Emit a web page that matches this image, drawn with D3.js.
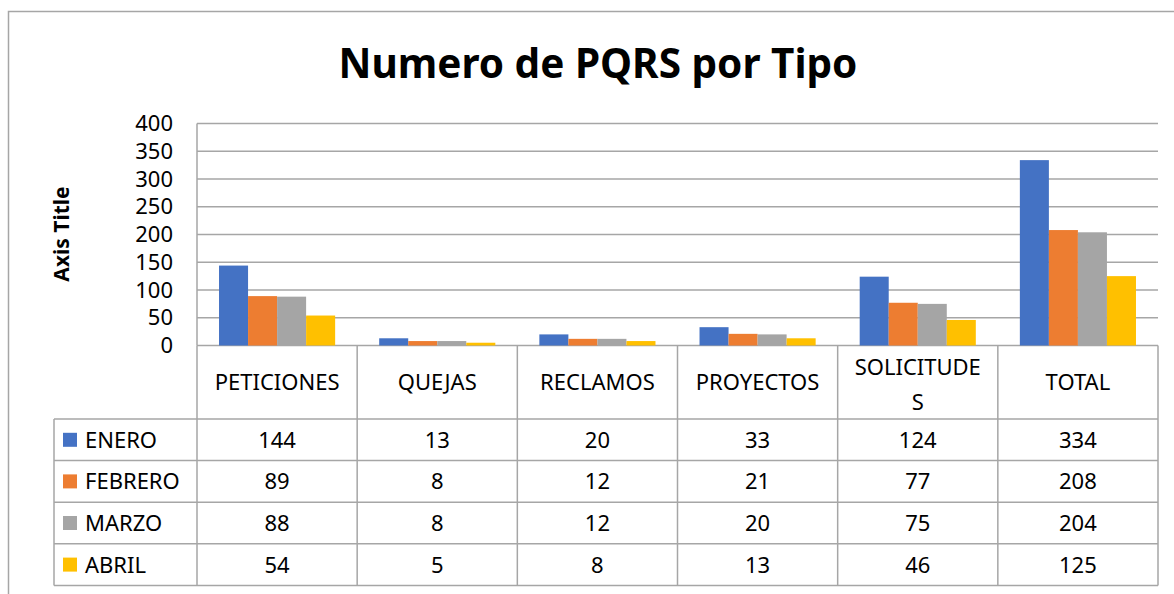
<!DOCTYPE html>
<html>
<head>
<meta charset="utf-8">
<script src="https://cdn.jsdelivr.net/npm/d3@7"></script>
<style>
  body { margin: 0; background: #fff; }
  svg text { font-family: "Noto Sans", sans-serif; fill: #000; }
</style>
</head>
<body>
<svg class="chart" width="1174" height="594"></svg>
<script>
var categories = ["PETICIONES", "QUEJAS", "RECLAMOS", "PROYECTOS", "SOLICITUDES", "TOTAL"];
var catLines = [["PETICIONES"], ["QUEJAS"], ["RECLAMOS"], ["PROYECTOS"], ["SOLICITUDE", "S"], ["TOTAL"]];
var seriesNames = ["ENERO", "FEBRERO", "MARZO", "ABRIL"];
var enero = [144, 13, 20, 33, 124, 334];
var febrero = [89, 8, 12, 21, 77, 208];
var marzo = [88, 8, 12, 20, 75, 204];
var abril = [54, 5, 8, 13, 46, 125];
var yTicks = [0, 50, 100, 150, 200, 250, 300, 350, 400];
var colors = ["#4472C4", "#ED7D31", "#A5A5A5", "#FFC000"];

var seriesValues = [enero, febrero, marzo, abril];

var svg = d3.select(".chart");

var margin = { top: 123.5, left: 197, right: 16 },
    width = 1158 - margin.left,
    height = 345.5 - margin.top;

var lineColor = "#a6a6a6";

// outer frame (right and bottom fall off the picture)
svg.append("rect")
    .attr("x", 8.5).attr("y", 11.5)
    .attr("width", 1200).attr("height", 700)
    .attr("fill", "none")
    .attr("stroke", lineColor)
    .attr("stroke-width", 1.5);

// title
svg.append("text")
    .attr("x", 598).attr("y", 78)
    .attr("text-anchor", "middle")
    .attr("font-size", "40.5px")
    .attr("font-weight", "bold")
    .text("Numero de PQRS por Tipo");

var x0 = d3.scaleBand().domain(categories).range([0, width]);
var bw = x0.bandwidth();
var gap = bw * 0.1375;
var x1 = d3.scaleBand().domain(seriesNames).range([gap, bw - gap]);
var y = d3.scaleLinear().domain([0, 400]).range([height, 0]);

var g = svg.append("g")
    .attr("transform", "translate(" + margin.left + "," + margin.top + ")");

// gridlines
g.selectAll(".grid")
    .data(yTicks).enter()
    .append("line")
    .attr("x1", 0).attr("x2", width)
    .attr("y1", function (d) { return y(d); })
    .attr("y2", function (d) { return y(d); })
    .attr("stroke", lineColor)
    .attr("stroke-width", 1.5);

// y axis
var yAxis = d3.axisLeft(y).tickValues(yTicks).tickSize(0).tickPadding(24);
var ya = g.append("g").call(yAxis);
ya.select(".domain").remove();
ya.selectAll("text")
    .attr("font-size", "22px")
    .attr("font-family", "Noto Sans, sans-serif")
    .attr("fill", "#000");

g.append("line")
    .attr("x1", 0).attr("x2", 0)
    .attr("y1", 0).attr("y2", height)
    .attr("stroke", lineColor).attr("stroke-width", 1.5);

// axis title
svg.append("text")
    .attr("transform", "translate(69,234) rotate(-90)")
    .attr("text-anchor", "middle")
    .attr("font-size", "21px")
    .attr("font-weight", "bold")
    .text("Axis Title");

// bars
var groups = g.selectAll(".cat")
    .data(categories).enter()
    .append("g")
    .attr("transform", function (d) { return "translate(" + x0(d) + ",0)"; });

groups.selectAll("rect")
    .data(function (d, i) {
        return seriesNames.map(function (s, j) { return { s: s, v: seriesValues[j][i], j: j }; });
    }).enter()
    .append("rect")
    .attr("x", function (d) { return x1(d.s); })
    .attr("y", function (d) { return y(d.v); })
    .attr("width", x1.bandwidth())
    .attr("height", function (d) { return height - y(d.v); })
    .attr("fill", function (d) { return colors[d.j]; });

// data table
var rowH = 41.6, headH = 73.5;
var tableTop = height;
var legendLeft = 54 - margin.left;
var tb = g.append("g");

// header cells labels
categories.forEach(function (c, i) {
    var lines = catLines[i];
    var cx = x0(c) + bw / 2;
    var t = tb.append("text")
        .attr("text-anchor", "middle")
        .attr("font-size", "22px");
    lines.forEach(function (ln, k) {
        t.append("tspan")
            .attr("x", cx)
            .attr("y", lines.length > 1 ? tableTop + 29 + k * 35 : tableTop + 44)
            .text(ln);
    });
});

// vertical lines in table
d3.range(categories.length + 1).forEach(function (i) {
    var xx = i < categories.length ? x0(categories[i]) : width;
    tb.append("line")
        .attr("x1", xx).attr("x2", xx)
        .attr("y1", tableTop).attr("y2", tableTop + headH + rowH * 4)
        .attr("stroke", lineColor).attr("stroke-width", 1.5);
});
tb.append("line")
    .attr("x1", legendLeft).attr("x2", legendLeft)
    .attr("y1", tableTop + headH).attr("y2", tableTop + headH + rowH * 4)
    .attr("stroke", lineColor).attr("stroke-width", 1.5);

// horizontal lines
d3.range(5).forEach(function (r) {
    var yy = tableTop + headH + r * rowH;
    tb.append("line")
        .attr("x1", legendLeft).attr("x2", width)
        .attr("y1", yy).attr("y2", yy)
        .attr("stroke", lineColor).attr("stroke-width", 1.5);
});

// rows
seriesNames.forEach(function (s, j) {
    var ry = tableTop + headH + j * rowH;
    tb.append("rect")
        .attr("x", legendLeft + 9).attr("y", ry + rowH / 2 - 7)
        .attr("width", 14).attr("height", 14)
        .attr("fill", colors[j]);
    tb.append("text")
        .attr("x", legendLeft + 31).attr("y", ry + rowH / 2 + 8)
        .attr("font-size", "22px")
        .text(s);
    seriesValues[j].forEach(function (v, i) {
        tb.append("text")
            .attr("x", x0(categories[i]) + bw / 2)
            .attr("y", ry + rowH / 2 + 8)
            .attr("text-anchor", "middle")
            .attr("font-size", "22px")
            .text(v);
    });
});
</script>
</body>
</html>
